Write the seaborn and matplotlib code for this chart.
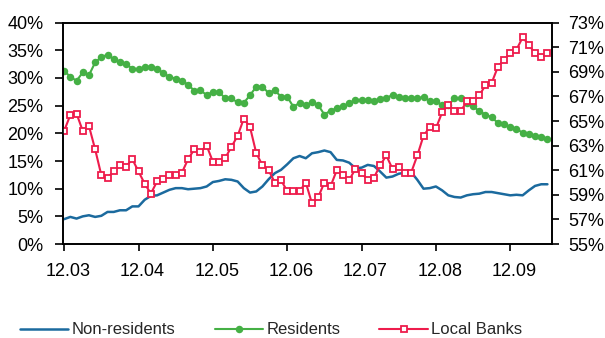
import numpy as np
import pandas as pd
import matplotlib
matplotlib.use("Agg")
import matplotlib.pyplot as plt
import matplotlib.transforms as mtransforms
from matplotlib.lines import Line2D
import seaborn as sns

# Monthly shares of holdings, Dec 2003 - Jun 2010
months = pd.date_range("2003-12-01", periods=79, freq="MS")

non_residents = [
    4.5, 4.9, 4.6, 5.0, 5.2, 4.9, 5.1, 5.8, 5.8, 6.1,
    6.1, 6.8, 6.8, 8.0, 8.7, 8.8, 9.3, 9.8, 10.1, 10.1,
    9.9, 10.0, 10.1, 10.4, 11.2, 11.4, 11.7, 11.6, 11.3, 10.1,
    9.3, 9.5, 10.4, 11.7, 12.8, 13.4, 14.4, 15.5, 15.9, 15.5,
    16.4, 16.6, 16.9, 16.6, 15.2, 15.1, 14.7, 13.7, 13.8, 14.3,
    14.1, 13.1, 12.0, 12.2, 12.7, 12.9, 13.0, 11.6, 10.0, 10.1,
    10.4, 9.7, 8.8, 8.5, 8.4, 8.8, 9.0, 9.1, 9.4, 9.4,
    9.2, 9.0, 8.8, 8.9, 8.8, 9.7, 10.5, 10.8, 10.8,
]

residents = [
    31.3, 30.2, 29.5, 31.0, 30.5, 32.8, 33.8, 34.2, 33.4, 32.8,
    32.5, 31.7, 31.6, 31.9, 32.0, 31.7, 30.9, 30.2, 29.9, 29.5,
    28.8, 27.7, 27.8, 26.9, 27.5, 27.5, 26.3, 26.3, 25.6, 25.5,
    26.9, 28.4, 28.4, 27.3, 27.8, 26.6, 26.6, 24.8, 25.5, 25.1,
    25.6, 25.1, 23.4, 24.1, 24.5, 24.9, 25.4, 26.1, 26.0, 26.0,
    25.9, 26.2, 26.3, 27.0, 26.6, 26.4, 26.3, 26.3, 26.6, 25.8,
    25.8, 25.1, 25.1, 26.3, 26.3, 25.5, 24.9, 24.0, 23.4, 22.9,
    21.9, 21.6, 21.1, 20.8, 20.1, 19.8, 19.5, 19.3, 18.9,
]

local_banks = [
    64.2, 65.5, 65.6, 64.2, 64.6, 62.7, 60.6, 60.4, 60.9, 61.4,
    61.3, 61.9, 60.9, 59.9, 59.1, 60.1, 60.3, 60.6, 60.6, 60.8,
    61.9, 62.7, 62.5, 63.0, 61.7, 61.7, 62.0, 62.9, 63.8, 65.2,
    64.5, 62.4, 61.4, 61.0, 60.0, 60.2, 59.3, 59.3, 59.3, 60.0,
    58.3, 58.8, 60.0, 59.7, 61.0, 60.6, 60.2, 61.1, 60.8, 60.2,
    60.4, 61.4, 62.2, 61.1, 61.3, 60.8, 60.8, 62.2, 63.8, 64.5,
    64.4, 65.7, 66.3, 65.8, 65.8, 66.6, 66.6, 67.1, 67.9, 68.1,
    69.4, 70.0, 70.5, 70.8, 71.8, 71.2, 70.5, 70.2, 70.5,
]

series_names = ["Non-residents", "Residents", "Local Banks"]
colors = ["#1b6a9e", "#45b045", "#ee1c4c"]

df = pd.DataFrame({
    "t": np.arange(len(months)),
    "Non-residents": non_residents,
    "Residents": residents,
    "Local Banks": local_banks,
})

sns.set_style("ticks")
plt.rcParams["font.family"] = ["Liberation Sans", "DejaVu Sans"]

fig = plt.figure(figsize=(6.05, 3.38), dpi=100)
ax = fig.add_axes([0.104, 0.278, 0.808, 0.655])
ax2 = ax.twinx()

sns.lineplot(data=df, x="t", y="Non-residents", ax=ax, color=colors[0],
             linewidth=1.8)
sns.lineplot(data=df, x="t", y="Residents", ax=ax, color=colors[1],
             linewidth=1.5, marker="o", markersize=5.4, markeredgewidth=0)
sns.lineplot(data=df, x="t", y="Local Banks", ax=ax2, color=colors[2],
             linewidth=1.5, marker="s", markersize=4.8,
             markerfacecolor="white", markeredgecolor=colors[2],
             markeredgewidth=1.3)

ax.set_xlim(-0.2, 78.7)
ax.set_ylim(0, 40)
ax2.set_ylim(55, 73)
ax.set_yticks(np.arange(0, 41, 5))
ax.set_yticklabels([f"{v}%" for v in range(0, 41, 5)])
ax2.set_yticks(np.arange(55, 74, 2))
ax2.set_yticklabels([f"{v}%" for v in range(55, 74, 2)])

tick_pos = list(range(0, len(months), 12))
ax.set_xticks(tick_pos)
ax.set_xticklabels([months[i].strftime("%m.%y") for i in tick_pos])

for a in (ax, ax2):
    a.set_xlabel("")
    a.set_ylabel("")
    for s in a.spines.values():
        s.set_color("black")
        s.set_linewidth(1.2)
    a.grid(False)

ax.tick_params(axis="y", direction="out", length=6, width=1.2, pad=8,
               labelsize=13, colors="black")
ax.tick_params(axis="x", direction="out", length=5, width=1.2, pad=9,
               labelsize=13, colors="black")
ax2.tick_params(axis="y", direction="out", length=5, width=1.2, pad=7,
                labelsize=13, colors="black")

# nudge the date labels a little to the right of their ticks
shift = mtransforms.ScaledTranslation(4 / 100, 0, fig.dpi_scale_trans)
for lbl in ax.get_xticklabels():
    lbl.set_transform(lbl.get_transform() + shift)

handles = [
    Line2D([], [], color=colors[0], linewidth=1.8),
    Line2D([], [], color=colors[1], linewidth=1.5, marker="o",
           markersize=5.4, markeredgewidth=0),
    Line2D([], [], color=colors[2], linewidth=1.5, marker="s",
           markersize=4.8, markerfacecolor="white",
           markeredgecolor=colors[2], markeredgewidth=1.3),
]
fig.legend(handles, series_names, loc="center", bbox_to_anchor=(0.448, 0.024),
           ncol=3, frameon=False, fontsize=12, handlelength=2.9,
           handletextpad=0.2, columnspacing=2.35, borderaxespad=0)

fig.savefig("out.png", dpi=100)
